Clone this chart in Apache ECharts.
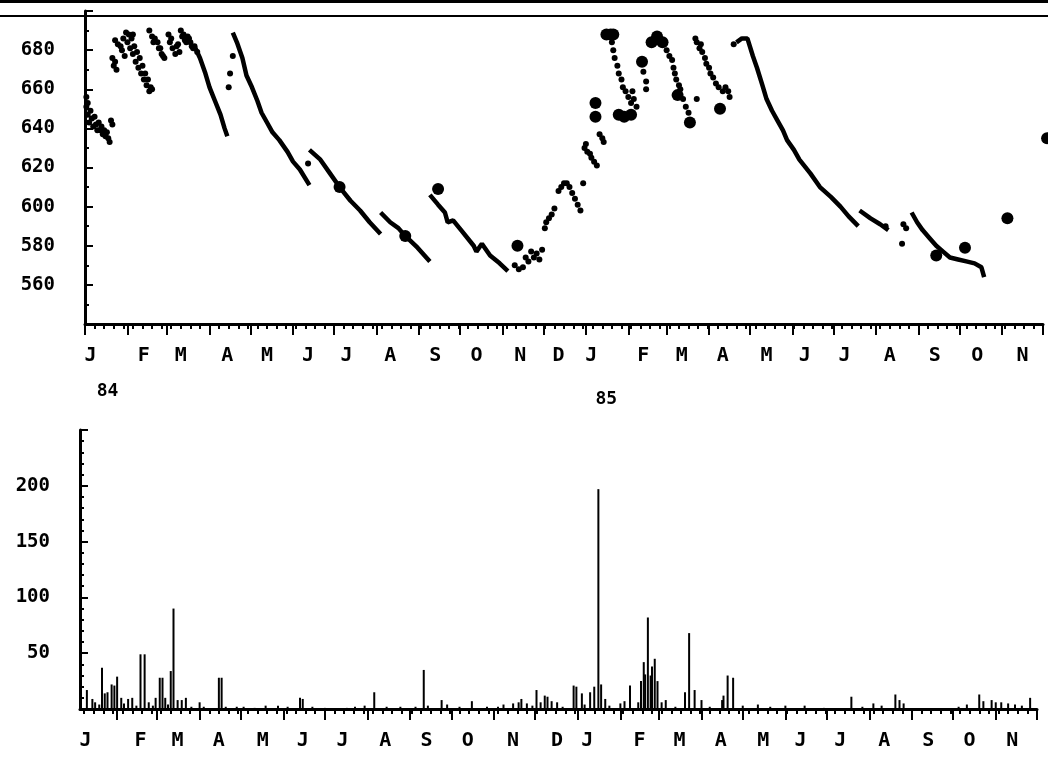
<!DOCTYPE html>
<html>
<head>
<meta charset="utf-8">
<title>Niveau piezometrique et pluie 1984-1985</title>
<style>
  html, body { margin: 0; padding: 0; background: #fff; }
  #main { width: 1048px; height: 775px; }
</style>
</head>
<body>
<div id="main"></div>
<script src="https://cdn.jsdelivr.net/npm/echarts@6/dist/echarts.min.js"></script>
<script>
// x values are days counted from 1 Jan 1984
var monthStarts = [0, 31, 60, 91, 121, 152, 182, 213, 244, 274, 305, 335, 366, 397, 425, 456, 486, 517, 547, 578, 609, 639, 670, 700];
var monthLetters = ['J', 'F', 'M', 'A', 'M', 'J', 'J', 'A', 'S', 'O', 'N', 'D', 'J', 'F', 'M', 'A', 'M', 'J', 'J', 'A', 'S', 'O', 'N'];
var topLabelDays = [4, 43, 70, 104, 133, 163, 191, 223, 256, 286, 318, 346, 370, 408, 436, 466, 498, 526, 555, 588, 621, 652, 685];
var bottomLabelDays = [8, 48, 75, 105, 137, 166, 195, 226, 256, 286, 319, 351, 373, 411, 440, 470, 501, 528, 557, 589, 621, 651, 682];
var yearLabels = {0: '84', 12: '85'};

// water level, scattered readings
var winter84Points = [[1,656],[1,651],[2,647],[2,653],[3,643],[4,649],[5,645],[6,641],[7,646],[8,642],[9,639],[10,643],[11,639],[12,641],[13,637],[14,639],[15,636],[16,638],[17,635],[18,633],[19,644],[20,642],
  [20,676],[21,672],[22,674],[23,670],[22,685],[24,683],[26,682],[27,680],[28,686],[29,677],[30,689],[31,684],[32,688],[33,681],[34,686],[35,678],[35,688],[36,682],[37,674],[38,679],[39,671],[40,676],[41,668],[42,672],[43,665],[44,668],[45,662],[46,665],[47,659],[48,661],[49,660],
  [47,690],[49,687],[50,684],[51,686],[53,684],[54,681],[55,681],[56,678],[57,677],[58,676],[61,688],[62,684],[63,686],[64,681],[66,678],[67,682],[68,683],[69,679],[70,690],[71,687],[72,688],[73,685],[74,684],[75,687],[76,686],[77,684],[78,682],[79,681],[80,682],[82,679],
  [105,661],[106,668],[108,677],[163,622]];
var autumn84Points = [[314,570],[317,568],[320,569],[322,574],[324,572],[326,577],[328,574],[330,576],[332,573],[334,578],[336,589],[337,592],[339,594],[341,596],[343,599],
  [346,608],[348,610],[350,612],[352,612],[354,610],[356,607],[358,604],[360,601],[362,598],[364,612]];
var winter85Points = [[365,630],[366,632],[367,628],[369,627],[370,625],[372,623],[374,621],[376,637],[378,635],[379,633],
  [385,684],[386,680],[387,676],[389,672],[390,668],[392,665],[393,661],[395,659],[397,656],[399,653],[400,659],[401,655],[403,651],[408,669],[410,664],[410,660],
  [425,680],[427,677],[429,675],[430,671],[431,668],[432,665],[434,662],[435,660],[437,655],[439,651],[441,648],[447,655],
  [446,686],[447,684],[449,681],[450,683],[451,679],[453,676],[454,673],[456,671],[457,668],[459,666],[461,663],[463,661],[466,659],[468,661],[470,659],[471,656],[474,683]];
var autumn85Points = [[585,590],[597,581],[598,591],[600,589]];

// water level, continuous recession runs
var recessionMar84 = [[80,682],[84,676],[88,668],[91,661],[95,654],[99,647],[102,640],[104,636]];
var recessionApr84 = [[108,689],[111,684],[115,676],[118,667],[122,661],[126,654],[129,648],[133,643],[137,638],[142,634],[148,628],[152,623],[157,619],[164,611]];
var recessionJun84 = [[164,629],[172,624],[179,617],[186,610],[194,603],[201,598],[208,592],[216,586]];
var recessionAug84 = [[216,597],[223,592],[229,589],[234,585],[243,579],[252,572]];
var recessionSep84 = [[252,606],[258,601],[263,597],[265,592],[269,593],[276,587],[284,580],[286,577],[290,581],[296,575],[303,571],[309,567]];
var recessionApr85 = [[476,684],[480,686],[484,686],[488,677],[491,671],[495,662],[498,655],[502,649],[506,644],[510,639],[513,634],[518,629],[522,624],[530,617],[537,610],[545,605],[552,600],[558,595],[565,590]];
var recessionJul85 = [[566,598],[574,594],[581,591],[587,588]];
var recessionAug85 = [[604,597],[608,592],[612,588],[617,584],[622,580],[627,577],[632,574],[638,573],[644,572],[650,571],[655,569],[657,564]];

// single larger readings
var spotReadings = [[186,610],[234,585],[258,609],[316,580],[373,653],[373,646],[381,688],[384,688],[386,688],[390,647],[394,646],[399,647],[407,674],
  [414,684],[418,687],[422,684],[433,657],[442,643],[464,650],[622,575],[643,579],[674,594],[703,635]];

// daily rainfall
var rain = [[9,17],[13,9],[15,6],[18,4],[20,37],[22,14],[24,15],[27,22],[29,21],[31,29],[34,10],[36,5],[39,9],[42,10],[45,3],[48,49],[51,49],[54,6],[57,3],[59,10],[62,28],[64,28],[66,10],[68,4],[70,34],[72,90],[75,8],[78,8],[81,10],[85,2],[91,6],[94,2],
  [105,28],[107,28],[110,2],[118,2],[123,2],[131,1],[139,3],[148,3],[155,2],[164,10],[166,9],[173,2],[182,1],[198,1],[204,2],[211,3],[218,15],[227,2],[237,2],[248,2],[254,35],[257,3],[267,8],[271,4],[280,2],[289,7],[300,2],[308,2],
  [312,4],[319,5],[323,6],[325,9],[329,5],[333,3],[336,17],[339,6],[342,12],[344,11],[347,7],[351,6],[355,2],[363,21],[365,20],[369,14],[371,4],[375,15],[378,20],[381,197],[383,22],[386,9],[389,3],[397,5],[400,7],
  [404,21],[410,6],[412,25],[414,42],[415,31],[417,82],[419,30],[420,38],[422,45],[424,25],[427,6],[430,8],[437,2],[444,15],[447,68],[451,17],[456,8],[462,2],[471,8],[472,12],[475,30],[479,28],[486,3],[497,4],[506,2],[517,3],[531,3],[545,1],
  [565,11],[573,2],[581,5],[587,3],[597,13],[600,8],[603,5],[643,2],[649,4],[658,13],[661,7],[667,8],[670,6],[674,6],[679,5],[684,4],[689,3],[695,10]];

var weekTicks = [];
for (var w = 7; w < 700; w += 7) weekTicks.push(w);

var FONT = 'DejaVu Sans Mono';

function monthAxis(grid, min, labelDays) {
    return {
        type: 'value', gridIndex: grid, min: min, max: 700, position: 'bottom',
        axisLine: { lineStyle: { color: '#000', width: 3 } },
        axisTick: { customValues: monthStarts.filter(function (d) { return d >= min; }), length: 11, lineStyle: { color: '#000', width: 2 } },
        axisLabel: {
            customValues: labelDays, margin: 22, color: '#000',
            fontFamily: FONT, fontSize: 20, fontWeight: 'bold',
            formatter: function (v) {
                var i = labelDays.indexOf(v);
                if (grid === 0 && yearLabels[i]) {
                    return '{m|' + monthLetters[i] + '}\n{' + (i === 0 ? 'ya' : 'yb') + '|' + yearLabels[i] + '}';
                }
                return monthLetters[i];
            },
            rich: {
                m: { fontFamily: FONT, fontSize: 20, fontWeight: 'bold', color: '#000', lineHeight: 20 },
                ya: { fontFamily: FONT, fontSize: 18, fontWeight: 'bold', color: '#000', padding: [16, 0, 0, 34] },
                yb: { fontFamily: FONT, fontSize: 18, fontWeight: 'bold', color: '#000', padding: [24, 0, 0, 30] }
            }
        },
        splitLine: { show: false }
    };
}

function weekAxis(grid, min) {
    return {
        type: 'value', gridIndex: grid, min: min, max: 700, position: 'bottom',
        axisLine: { show: false },
        axisTick: { customValues: weekTicks.filter(function (d) { return d >= min; }), length: 5, lineStyle: { color: '#000', width: 2 } },
        axisLabel: { show: false },
        splitLine: { show: false }
    };
}

function valueAxis(grid, min, max, step, minorSplit) {
    return {
        type: 'value', gridIndex: grid, min: min, max: max, interval: step,
        axisLine: { show: true, lineStyle: { color: '#000', width: 3 } },
        axisTick: { show: true, inside: true, length: 8, lineStyle: { color: '#000', width: 2 } },
        minorTick: { show: true, splitNumber: minorSplit, length: 4, lineStyle: { color: '#000', width: 2 } },
        axisLabel: {
            margin: 30, color: '#000', fontFamily: FONT, fontSize: 19, fontWeight: 'bold',
            formatter: function (v) { return (v === min || v === max) ? '' : String(v); }
        },
        splitLine: { show: false }
    };
}

function run(data) {
    return {
        type: 'line', xAxisIndex: 0, yAxisIndex: 0, data: data, showSymbol: false, symbol: 'none',
        lineStyle: { color: '#000', width: 4.5 }, silent: true
    };
}
function dots(data, size) {
    return {
        type: 'scatter', xAxisIndex: 0, yAxisIndex: 0, data: data, symbolSize: size, clip: false,
        itemStyle: { color: '#000', opacity: 1 }, silent: true
    };
}

var series = [recessionMar84, recessionApr84, recessionJun84, recessionAug84, recessionSep84, recessionApr85, recessionJul85, recessionAug85].map(run);
series.push(dots(winter84Points, 6), dots(autumn84Points, 6), dots(winter85Points, 6), dots(autumn85Points, 6), dots(spotReadings, 12));
series.push({
    type: 'bar', xAxisIndex: 2, yAxisIndex: 1, data: rain, barWidth: 2,
    itemStyle: { color: '#000' }, silent: true
});

var myChart = echarts.init(document.getElementById('main'));
myChart.setOption({
    animation: false,
    backgroundColor: '#fff',
    grid: [
        { left: 85, right: 5, top: 11, bottom: 451 },
        { left: 80, right: 11, top: 430, bottom: 66 }
    ],
    xAxis: [monthAxis(0, 0, topLabelDays), weekAxis(0, 0), monthAxis(1, 4, bottomLabelDays), weekAxis(1, 4)],
    yAxis: [valueAxis(0, 540, 700, 20, 2), valueAxis(1, 0, 250, 50, 5)],
    graphic: [
        { type: 'rect', left: 0, top: 0, shape: { width: 1048, height: 3 }, style: { fill: '#000' } },
        { type: 'rect', left: 0, top: 15, shape: { width: 1048, height: 2 }, style: { fill: '#000' } }
    ],
    series: series
});
</script>
</body>
</html>
